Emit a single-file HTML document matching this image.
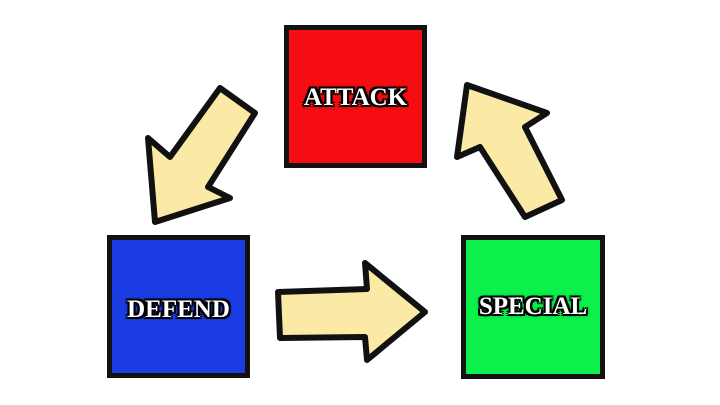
<!DOCTYPE html>
<html><head><style>
body{margin:0;width:720px;height:405px;background:#fff;position:relative;overflow:hidden}
.b{position:absolute;box-sizing:border-box;border:5px solid #111;display:flex;align-items:center;justify-content:center}
.t{font-family:"Liberation Serif",serif;font-weight:bold;font-size:25px;color:#fff;
text-shadow:-2px -2px 0 #000,2px -2px 0 #000,-2px 2px 0 #000,2px 2px 0 #000,0 2px 0 #000,0 -2px 0 #000,2px 0 0 #000,-2px 0 0 #000,0 0 4px #000}
svg{position:absolute;left:0;top:0}
</style></head><body>
<div class="b" style="left:284px;top:25px;width:143px;height:143px;background:#f60d12"><span class="t" style="margin-top:2px">ATTACK</span></div>
<div class="b" style="left:107px;top:235px;width:143px;height:143px;background:#1b3ce2"><span class="t" style="margin-top:6px">DEFEND</span></div>
<div class="b" style="left:461px;top:235px;width:144px;height:144px;background:#0bf04b"><span class="t" style="margin-top:0">SPECIAL</span></div>
<svg width="720" height="405">
<g fill="#fbeaa6" stroke="#111" stroke-width="6" stroke-linejoin="round">
<polygon points="220,88 255,113 208,187 230,198 155,222 148,138 170,157"/>
<polygon points="467,85 547,113 525,127 562,200 525,217 480,147 457,157"/>
<polygon points="278,292 367,289 365,263 425,312 367,360 365,337 280,338"/>
</g>
</svg>
</body></html>
